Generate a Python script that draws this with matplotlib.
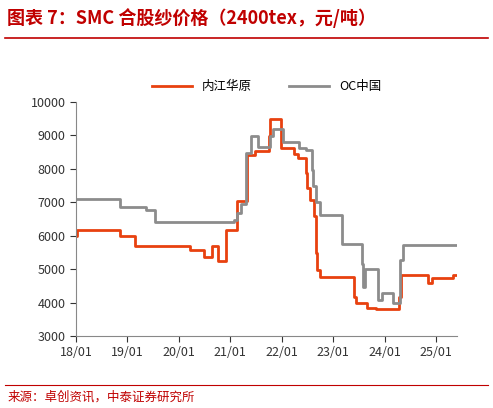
import matplotlib
matplotlib.use("Agg")
import matplotlib.pyplot as plt

plt.rcParams['font.family'] = ['Noto Sans CJK SC', 'DejaVu Sans']

neijiang_t = [0, 0.01, 0.864, 1.156, 2.214, 2.487, 2.649, 2.766, 2.909, 3.136, 3.234, 3.331, 3.481,
              3.753, 3.773, 3.981, 4.240, 4.318, 4.468, 4.500, 4.552, 4.630, 4.662, 4.695, 4.747,
              5.409, 5.442, 5.669, 5.831, 6.286, 6.318, 6.370, 6.838, 6.916, 7.325, 7.409]
neijiang_v = [5980, 6180, 5980, 5680, 5580, 5350, 5680, 5250, 6180, 7030, 7030, 8400, 8530,
              8980, 9500, 8630, 8430, 8330, 7880, 7430, 7080, 6580, 5480, 4980, 4760,
              4180, 3980, 3830, 3810, 4180, 4830, 4830, 4600, 4730, 4810, 4810]
occ_t = [0, 0.864, 1.370, 1.545, 3.071, 3.136, 3.201, 3.299, 3.331, 3.409, 3.539, 3.753, 3.773,
         3.831, 4.032, 4.338, 4.468, 4.597, 4.617, 4.662, 4.747, 5.182, 5.558, 5.591, 5.623,
         5.844, 5.864, 5.942, 6.143, 6.156, 6.273, 6.305, 6.351, 7.409]
occ_v = [7100, 6860, 6760, 6400, 6480, 6680, 6960, 8480, 8480, 8980, 8660, 8660, 8980,
         9180, 8810, 8630, 8560, 7980, 7480, 7000, 6630, 5750, 5160, 4480, 5010,
         5010, 4080, 4280, 4280, 4000, 4000, 5260, 5710, 5710]
xticks = [0, 1, 2, 3, 4, 5, 6, 7]
xlabels = ['18/01', '19/01', '20/01', '21/01', '22/01', '23/01', '24/01', '25/01']

fig = plt.figure(figsize=(4.93, 4.08), dpi=100)
ax = fig.add_axes([76/493, 1-336/408, (457-76)/493, (336-102)/408])
ax.plot(neijiang_t, neijiang_v, drawstyle='steps-post', color='#E8410F', lw=2.0, label='内江华原')
ax.plot(occ_t, occ_v, drawstyle='steps-post', color='#8C8C8C', lw=2.0, label='OC中国')
ax.set_xlim(0, 7.41)
ax.set_ylim(3000, 10000)
ax.set_yticks(range(3000, 10001, 1000))
ax.set_xticks(xticks)
ax.set_xticklabels(xlabels)
ax.tick_params(labelsize=9, colors='#333333', direction='out', length=4)
for s in ['top', 'right']:
    ax.spines[s].set_visible(False)
for s in ['left', 'bottom']:
    ax.spines[s].set_color('#888888')
leg = ax.legend(loc='lower center', bbox_to_anchor=(0.5, 0.99), ncol=2, frameon=False,
                fontsize=9, handlelength=3.2, columnspacing=3)

fig.text(0.015, 0.955, '图表 7：SMC 合股纱价格（2400tex，元/吨）', color='#C00000',
         fontsize=13, fontweight='bold', style='italic', va='center')
fig.add_artist(plt.Line2D([0.01, 0.99], [1-38/408]*2, color='#C00000', lw=1.2))
fig.add_artist(plt.Line2D([0.01, 0.99], [1-385/408]*2, color='#C00000', lw=0.8))
fig.text(0.015, 1-397/408, '来源：卓创资讯，中泰证券研究所', color='#C00000', fontsize=9, va='center')
fig.savefig('out.png', dpi=100)
